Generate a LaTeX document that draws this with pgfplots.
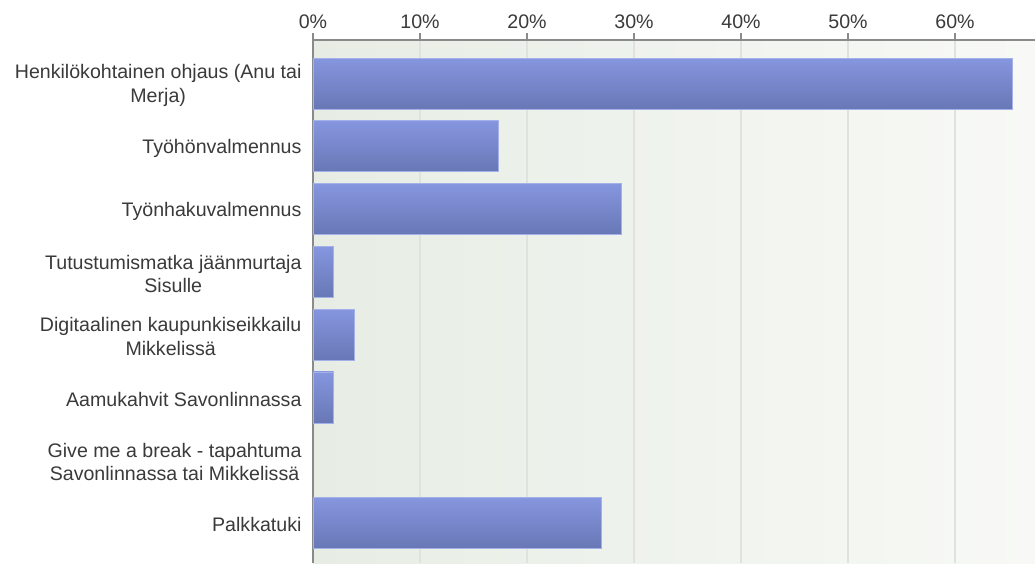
\documentclass[border=0pt]{standalone}
\usepackage{fontspec}
\setmainfont{Liberation Sans}
\usepackage{pgfplots}
\pgfplotsset{compat=1.18}
\definecolor{bgL}{HTML}{E7EDE5}
\definecolor{bgR}{HTML}{F8F9F6}
\definecolor{barT}{HTML}{8696DF}
\definecolor{barB}{HTML}{6877B5}
\definecolor{barE}{HTML}{A4B0E8}
\definecolor{gridc}{HTML}{DFE2DE}
\definecolor{axc}{HTML}{8A8A8A}
\definecolor{txt}{HTML}{3A3A3A}
\begin{document}
\begin{tikzpicture}
\begin{axis}[
  scale only axis,
  width=722pt, height=523pt,
  xbar, bar width=51pt, bar shift=0pt,
  xmin=0, xmax=67.48,
  ymin=-0.694, ymax=7.638,
  y dir=reverse,
  axis x line*=top,
  axis y line*=left,
  axis line style={axc, line width=1.2pt},
  xtick={0,10,20,30,40,50,60},
  xticklabel={\pgfmathprintnumber{\tick}\%},
  /pgf/number format/assume math mode=true,
  xtick align=outside,
  major tick length=7pt,
  xtick style={axc, line width=1.2pt},
  ytick={0,1,2,3,4,5,6,7},
  yticklabels={{Henkilökohtainen ohjaus (Anu tai\\Merja)},
    {Työhönvalmennus},
    {Työnhakuvalmennus},
    {Tutustumismatka jäänmurtaja\\Sisulle},
    {Digitaalinen kaupunkiseikkailu\\Mikkelissä},
    {Aamukahvit Savonlinnassa},
    {Give me a break - tapahtuma\\Savonlinnassa tai Mikkelissä},
    {Palkkatuki}},
  ytick style={draw=none},
  yticklabel style={align=center, font=\fontsize{19.6}{23.5}\selectfont, text=txt, xshift=-1pt, yshift=-2pt},
  xticklabel style={font=\fontsize{19.6}{23.5}\selectfont, text=txt, yshift=1pt},
  xmajorgrids,
  grid style={gridc, line width=1.5pt},
  axis background/.style={left color=bgL, right color=bgR},
  clip=false,
  barsty/.style={draw=barE, line width=0.8pt, top color=barT, bottom color=barB},
]
\addplot[barsty] coordinates {(65.38,0)};
\addplot[barsty] coordinates {(17.31,1)};
\addplot[barsty] coordinates {(28.85,2)};
\addplot[barsty] coordinates {(1.92,3)};
\addplot[barsty] coordinates {(3.85,4)};
\addplot[barsty] coordinates {(1.92,5)};
\addplot[barsty] coordinates {(26.92,7)};
\end{axis}
\pgfresetboundingbox
\path ([xshift=-313pt]current axis.south west) rectangle ([yshift=40pt]current axis.north east);
\end{tikzpicture}
\end{document}
